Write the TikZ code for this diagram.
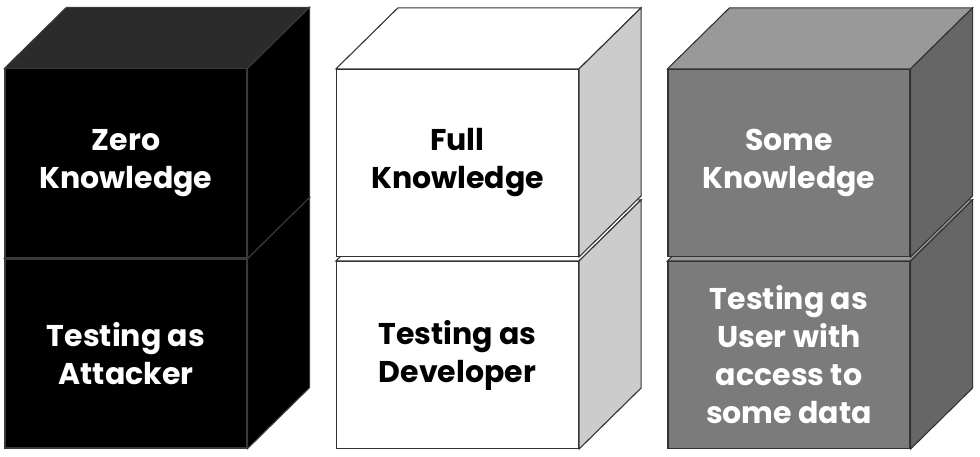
\documentclass[tikz,border=0pt]{standalone}
\usepackage{fontspec}
\setmainfont{Poppins}
\usetikzlibrary{positioning}

\definecolor{zerotop}{HTML}{2B2B2B}
\definecolor{zeroedge}{HTML}{3A3A3A}
\definecolor{fullside}{HTML}{CCCCCC}
\definecolor{someedge}{HTML}{333333}
\definecolor{somefront}{HTML}{7B7B7B}
\definecolor{sometop}{HTML}{999999}
\definecolor{someside}{HTML}{666666}

\def\depthx{62pt}
\def\depthy{61pt}

% top and side of a block, hung on its front node
\newcommand\blockfaces[4]{%
  \draw[draw=#4, fill=#2] (#1.north west) -- ++(\depthx,\depthy)
      -- ([shift={(\depthx,\depthy)}]#1.north east) -- (#1.north east) -- cycle;
  \draw[draw=#4, fill=#3] (#1.south east) -- ++(\depthx,\depthy)
      -- ([shift={(\depthx,\depthy)}]#1.north east) -- (#1.north east) -- cycle;
}

\begin{document}
\begin{tikzpicture}[x=1pt,y=-1pt,line width=1.1pt,node distance=4pt]
  \tikzstyle{block}=[rectangle,inner sep=0pt,minimum width=242pt,minimum height=187pt,
      align=center,font=\bfseries\fontsize{30}{38}\selectfont]
  \tikzstyle{zero block}=[block,draw=zeroedge,fill=black,text=white,minimum height=189pt]
  \tikzstyle{full block}=[block,draw=someedge,fill=white,text=black]
  \tikzstyle{some block}=[block,draw=someedge,fill=somefront,text=white]

  \useasboundingbox (0,0) rectangle (980,457);

  % Zero knowledge column
  \node[zero block] (Z-2) at (126,353.5) {Testing as\\Attacker};
  \blockfaces{Z-2}{zerotop}{black}{zeroedge}
  \node[zero block, above=0pt of Z-2] (Z-1) {Zero\\Knowledge};
  \blockfaces{Z-1}{zerotop}{black}{zeroedge}

  % Full knowledge column
  \node[full block] (F-2) at (457.5,355) {Testing as\\Developer};
  \blockfaces{F-2}{white}{fullside}{someedge}
  \node[full block, above=of F-2] (F-1) {Full\\Knowledge};
  \blockfaces{F-1}{white}{fullside}{someedge}

  % Some knowledge column
  \node[some block] (S-2) at (789,355) {Testing as\\User with\\access to\\some data};
  \blockfaces{S-2}{sometop}{someside}{someedge}
  \node[some block, above=of S-2] (S-1) {Some\\Knowledge};
  \blockfaces{S-1}{sometop}{someside}{someedge}
\end{tikzpicture}
\end{document}
